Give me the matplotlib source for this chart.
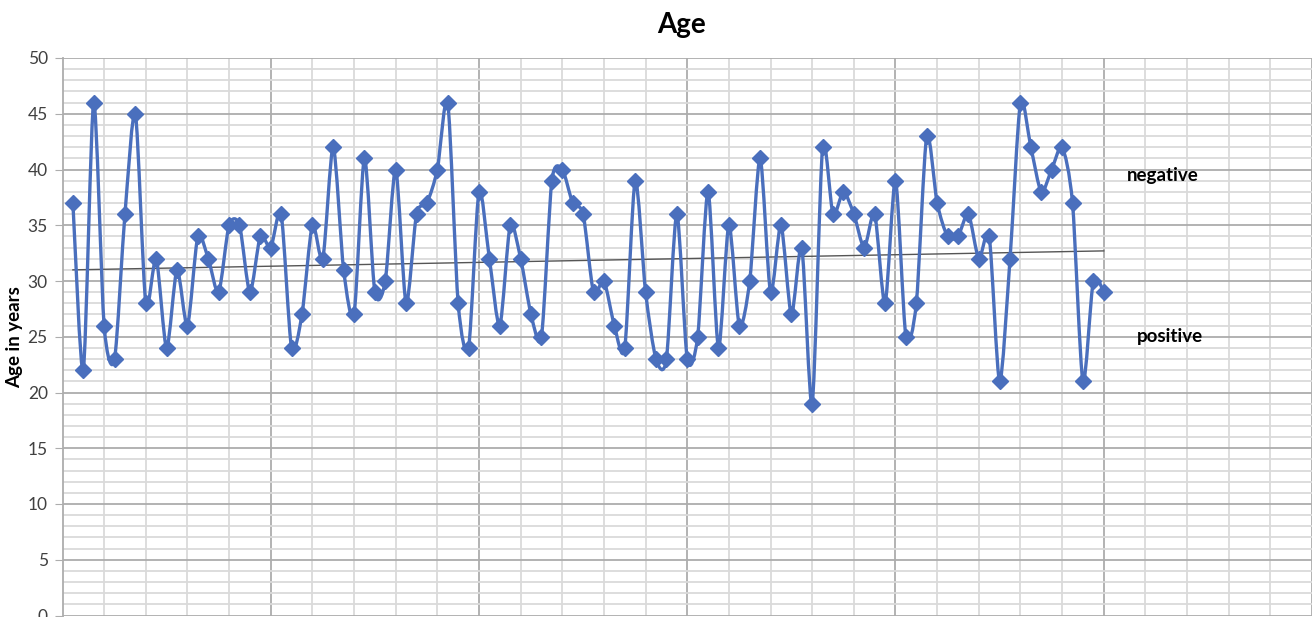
import numpy as np
import matplotlib
matplotlib.use("Agg")
import matplotlib.pyplot as plt
from matplotlib.path import Path
from matplotlib.patches import PathPatch
from matplotlib.ticker import MultipleLocator

# -----------------------------------------------------------------------------
# DATA
# -----------------------------------------------------------------------------
ages = [37, 22, 46, 26, 23, 36, 45, 28, 32, 24,
        31, 26, 34, 32, 29, 35, 35, 29, 34, 33,
        36, 24, 27, 35, 32, 42, 31, 27, 41, 29,
        30, 40, 28, 36, 37, 40, 46, 28, 24, 38,
        32, 26, 35, 32, 27, 25, 39, 40, 37, 36,
        29, 30, 26, 24, 39, 29, 23, 23, 36, 23,
        25, 38, 24, 35, 26, 30, 41, 29, 35, 27,
        33, 19, 42, 36, 38, 36, 33, 36, 28, 39,
        25, 28, 43, 37, 34, 34, 36, 32, 34, 21,
        32, 46, 42, 38, 40, 42, 37, 21, 30, 29]
trend_start, trend_end = 31.0, 32.7      # trendline ends
notes = ["negative", "positive"]
note_x = [101.2, 102.2]
note_y = [39.5, 25.0]

# -----------------------------------------------------------------------------
# STYLE
# -----------------------------------------------------------------------------
_BLUE  = "#4a6fbd"
_MAJOR = "#adadad"
_MINOR = "#dadada"
_TEXT  = "#404040"

plt.rcParams.update({
    "font.family": ["Lato", "DejaVu Sans"],
    "font.size": 11,
})


def _smooth_path(x, y, t=0.13):
    """Excel-like smoothed line as cubic Bezier segments."""
    pts = np.column_stack([x, y]).astype(float)
    n = len(pts)
    verts = [pts[0]]
    codes = [Path.MOVETO]
    for i in range(n - 1):
        p0 = pts[i - 1] if i > 0 else pts[i]
        p1 = pts[i]
        p2 = pts[i + 1]
        p3 = pts[i + 2] if i + 2 < n else pts[i + 1]
        c1 = p1 + (p2 - p0) * t
        c2 = p2 - (p3 - p1) * t
        verts += [c1, c2, p2]
        codes += [Path.CURVE4] * 3
    return Path(verts, codes)


fig = plt.figure(figsize=(13.12, 6.17), dpi=100)
ax = fig.add_axes([63 / 1312, 1.5 / 617, 1 - 63 / 1312, (615.5 - 58) / 617])

x = np.arange(len(ages))
y = np.array(ages)

# -- Gridlines ----------------------------------------------------------------
ax.set_ylim(0, 50)
ax.set_xlim(-0.95, 117.66)
ax.yaxis.set_major_locator(MultipleLocator(5))
ax.yaxis.set_minor_locator(MultipleLocator(1))
ax.set_xticks(np.arange(19, 120, 20))
ax.set_xticks(np.arange(3, 118, 4), minor=True)
ax.grid(True, which="major", color=_MAJOR, lw=1.3, zorder=0)
ax.grid(True, which="minor", color=_MINOR, lw=1.3, zorder=0)
ax.set_axisbelow(True)
ax.tick_params(axis="x", which="both", length=0, labelbottom=False)
ax.tick_params(axis="y", which="major", length=6, color=_MAJOR,
               labelsize=12.5, labelcolor=_TEXT, pad=5)
ax.tick_params(axis="y", which="minor", length=0)
for side in ("top", "right", "bottom"):
    ax.spines[side].set_visible(False)
ax.spines["left"].set_color(_MAJOR)
ax.spines["left"].set_linewidth(1.3)

# -- Smoothed series ----------------------------------------------------------
ax.add_patch(PathPatch(_smooth_path(x, y), facecolor="none", edgecolor=_BLUE,
                       lw=2.4, zorder=3, capstyle="round", joinstyle="round"))
ax.plot(x, y, ls="none", marker="D", ms=8.5, color=_BLUE, zorder=4)

# -- Linear trendline ---------------------------------------------------------
ax.plot([x[0], x[-1]], [trend_start, trend_end], color="#555555", lw=1.0,
        zorder=2)

# -- Labels -------------------------------------------------------------------
fig.text(682 / 1312, 1 - 25 / 617, "Age", fontsize=20, fontweight="bold",
         color="black", ha="center", va="center")
ax.set_ylabel("Age in years", fontsize=13.5, fontweight="bold", color="black",
              labelpad=3)
for txt, xx, yy in zip(notes, note_x, note_y):
    ax.text(xx, yy, txt, fontsize=13.5, fontweight="bold", color="black",
            va="center", ha="left", zorder=5)

fig.savefig("out.png", dpi=100, facecolor="white")
